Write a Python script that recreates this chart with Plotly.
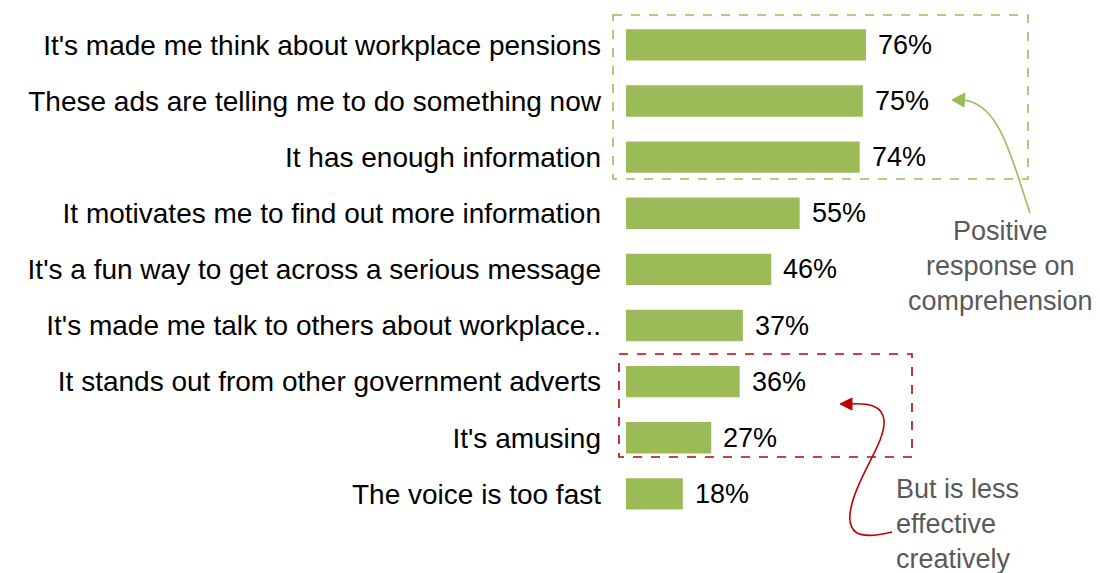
import plotly.graph_objects as go

# Survey statements and share of respondents agreeing (%)
statements = [
    "It's made me think about workplace pensions",
    "These ads are telling me to do something now",
    "It has enough information",
    "It motivates me to find out more information",
    "It's a fun way to get across a serious message",
    "It's made me talk to others about workplace..",
    "It stands out from other government adverts",
    "It's amusing",
    "The voice is too fast",
]
agree_pct = [76, 75, 74, 55, 46, 37, 36, 27, 18]

W, H = 1100, 573
ML, MR, MT, MB = 626, 0, 0, 0
PW, PH = W - ML - MR, H - MT - MB

GREEN = "#9BBB59"
RED = "#C00000"
GREY = "#595959"
FONT = "Liberation Sans, Arial, sans-serif"


def xp(px):
    return (px - ML) / PW


def yp(py):
    return 1 - (py - MT) / PH


def path(cmds):
    """Build an SVG path in paper units from pixel-space commands."""
    out = []
    for c in cmds:
        if isinstance(c, str):
            out.append(c)
        else:
            out.append(f"{xp(c[0]):.5f},{yp(c[1]):.5f}")
    return " ".join(out)


fig = go.Figure(
    go.Bar(
        x=agree_pct,
        y=statements,
        orientation="h",
        marker=dict(color=GREEN, line=dict(width=0)),
        width=0.56,
        hoverinfo="skip",
    )
)

# value labels beside each bar
for s, v in zip(statements, agree_pct):
    fig.add_annotation(
        x=v, y=s, xref="x", yref="y", text=f"{v}%", showarrow=False,
        xanchor="left", yanchor="middle", xshift=10,
        font=dict(family=FONT, size=27, color="#000000"),
    )

shapes = []
# highlight boxes
shapes.append(dict(type="rect", xref="paper", yref="paper",
                   x0=xp(613), x1=xp(1028), y0=yp(15), y1=yp(179),
                   line=dict(color=GREEN, width=1.6, dash="dash"),
                   fillcolor="rgba(0,0,0,0)"))
shapes.append(dict(type="rect", xref="paper", yref="paper",
                   x0=xp(619), x1=xp(912), y0=yp(354), y1=yp(457),
                   line=dict(color=RED, width=1.6, dash="dash"),
                   fillcolor="rgba(0,0,0,0)"))

# curved green pointer
shapes.append(dict(type="path", xref="paper", yref="paper",
                   path=path(["M", (1030, 213), "C", (1012, 160), (1000, 102), (962, 100)]),
                   line=dict(color=GREEN, width=1.6)))
shapes.append(dict(type="path", xref="paper", yref="paper",
                   path=path(["M", (952, 100), "L", (965, 93), "L", (964, 107), "Z"]),
                   line=dict(color=GREEN, width=1), fillcolor=GREEN))

# curved red pointer
shapes.append(dict(type="path", xref="paper", yref="paper",
                   path=path(["M", (892, 532), "C", (860, 540), (842, 536), (853, 500),
                              "C", (862, 470), (886, 440), (884, 420),
                              "C", (882, 405), (868, 403), (850, 404)]),
                   line=dict(color=RED, width=1.6)))
shapes.append(dict(type="path", xref="paper", yref="paper",
                   path=path(["M", (840, 404), "L", (852, 398), "L", (852, 410), "Z"]),
                   line=dict(color=RED, width=1), fillcolor=RED))

fig.add_annotation(
    x=xp(1000), y=yp(266), xref="paper", yref="paper",
    text="Positive<br>response on<br>comprehension", showarrow=False,
    xanchor="center", yanchor="middle", align="center",
    font=dict(family=FONT, size=27, color=GREY),
)
fig.add_annotation(
    x=xp(894), y=yp(524), xref="paper", yref="paper",
    text="But is less<br>effective<br>creatively", showarrow=False,
    xanchor="left", yanchor="middle", align="left",
    font=dict(family=FONT, size=27, color=GREY),
)

fig.update_layout(
    width=W, height=H,
    margin=dict(l=ML, r=MR, t=MT, b=MB, pad=0),
    paper_bgcolor="white", plot_bgcolor="white",
    showlegend=False,
    shapes=shapes,
    bargap=0.44,
)
fig.update_xaxes(range=[0, PW / 3.158], visible=False, fixedrange=True)
fig.update_yaxes(
    type="category", categoryorder="array", categoryarray=statements,
    range=[9.41, -0.80], showgrid=False, zeroline=False, showline=False,
    ticks="", ticklabelstandoff=24,
    tickfont=dict(family=FONT, size=28, color="#000000"),
    fixedrange=True,
)

fig.write_html("out.html")
